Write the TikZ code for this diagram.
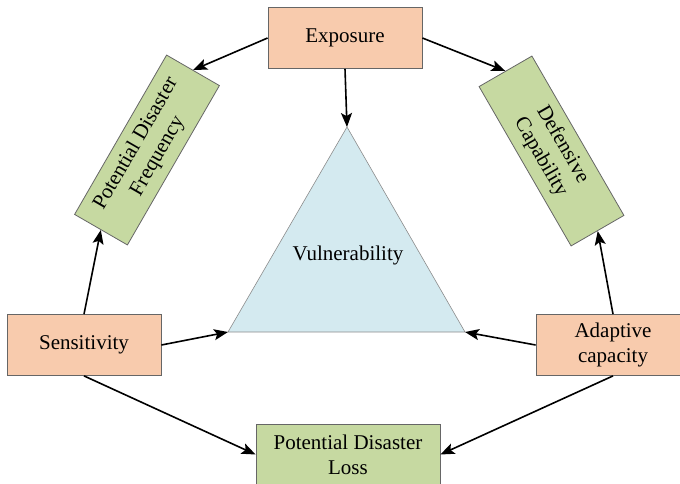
\documentclass[tikz,border=0pt]{standalone}
\usepackage{fontspec}
\setmainfont{Liberation Serif}
\usetikzlibrary{arrows.meta, positioning}
\definecolor{peach}{HTML}{F8CBAD}
\definecolor{sage}{HTML}{C6D9A1}
\definecolor{paleblue}{HTML}{D4EAF0}
\tikzset{
    factor/.style={rectangle, minimum width=154pt, minimum height=61pt, text centered, align=center, draw=black!60, fill=peach, line width=0.8pt, inner sep=2pt},
    outcome/.style={rectangle, minimum width=184pt, minimum height=61pt, text centered, align=center, draw=black!60, fill=sage, line width=0.8pt, inner sep=2pt},
    arrow/.style={line width=1.6pt, ->, >={Stealth[length=14pt,width=11pt,inset=3pt]}},
}
\begin{document}
\begin{tikzpicture}[x=1pt, y=1pt, every node/.style={font=\fontsize{21}{25}\selectfont}]
  \useasboundingbox (0,0) rectangle (680,483);

  % vulnerability triangle
  \coordinate (apex) at (347,356);
  \coordinate (lft)  at (228,151);
  \coordinate (rgt)  at (465,151);
  \draw[fill=paleblue, draw=black!45, line width=0.6pt] (apex) -- (lft) -- (rgt) -- cycle;
  \node (vul) at (348,228) {Vulnerability};

  \node[factor]  (expo) at (345,445)   {Exposure};
  \node[factor]  (sens) at (84,138)    {Sensitivity};
  \node[factor]  (adap) at (613,138)   {Adaptive\\capacity};
  \node[outcome] (loss) at (348,28.5)  {Potential Disaster\\Loss};
  \node[outcome, rotate=60]  (freq) at (147,333)   {Potential Disaster\\Frequency};
  \node[outcome, rotate=-60] (defn) at (551.5,332) {Defensive\\Capability};

  \draw[arrow] (expo.west)  -- (freq.east);
  \draw[arrow] (expo.east)  -- (defn.west);
  \draw[arrow] (expo.south) -- (apex);
  \draw[arrow] (sens.north) -- (freq.west);
  \draw[arrow] (sens.east)  -- (lft);
  \draw[arrow] (sens.south) -- (loss.west);
  \draw[arrow] (adap.north) -- (defn.east);
  \draw[arrow] (adap.west)  -- (rgt);
  \draw[arrow] (adap.south) -- (loss.east);
\end{tikzpicture}
\end{document}
